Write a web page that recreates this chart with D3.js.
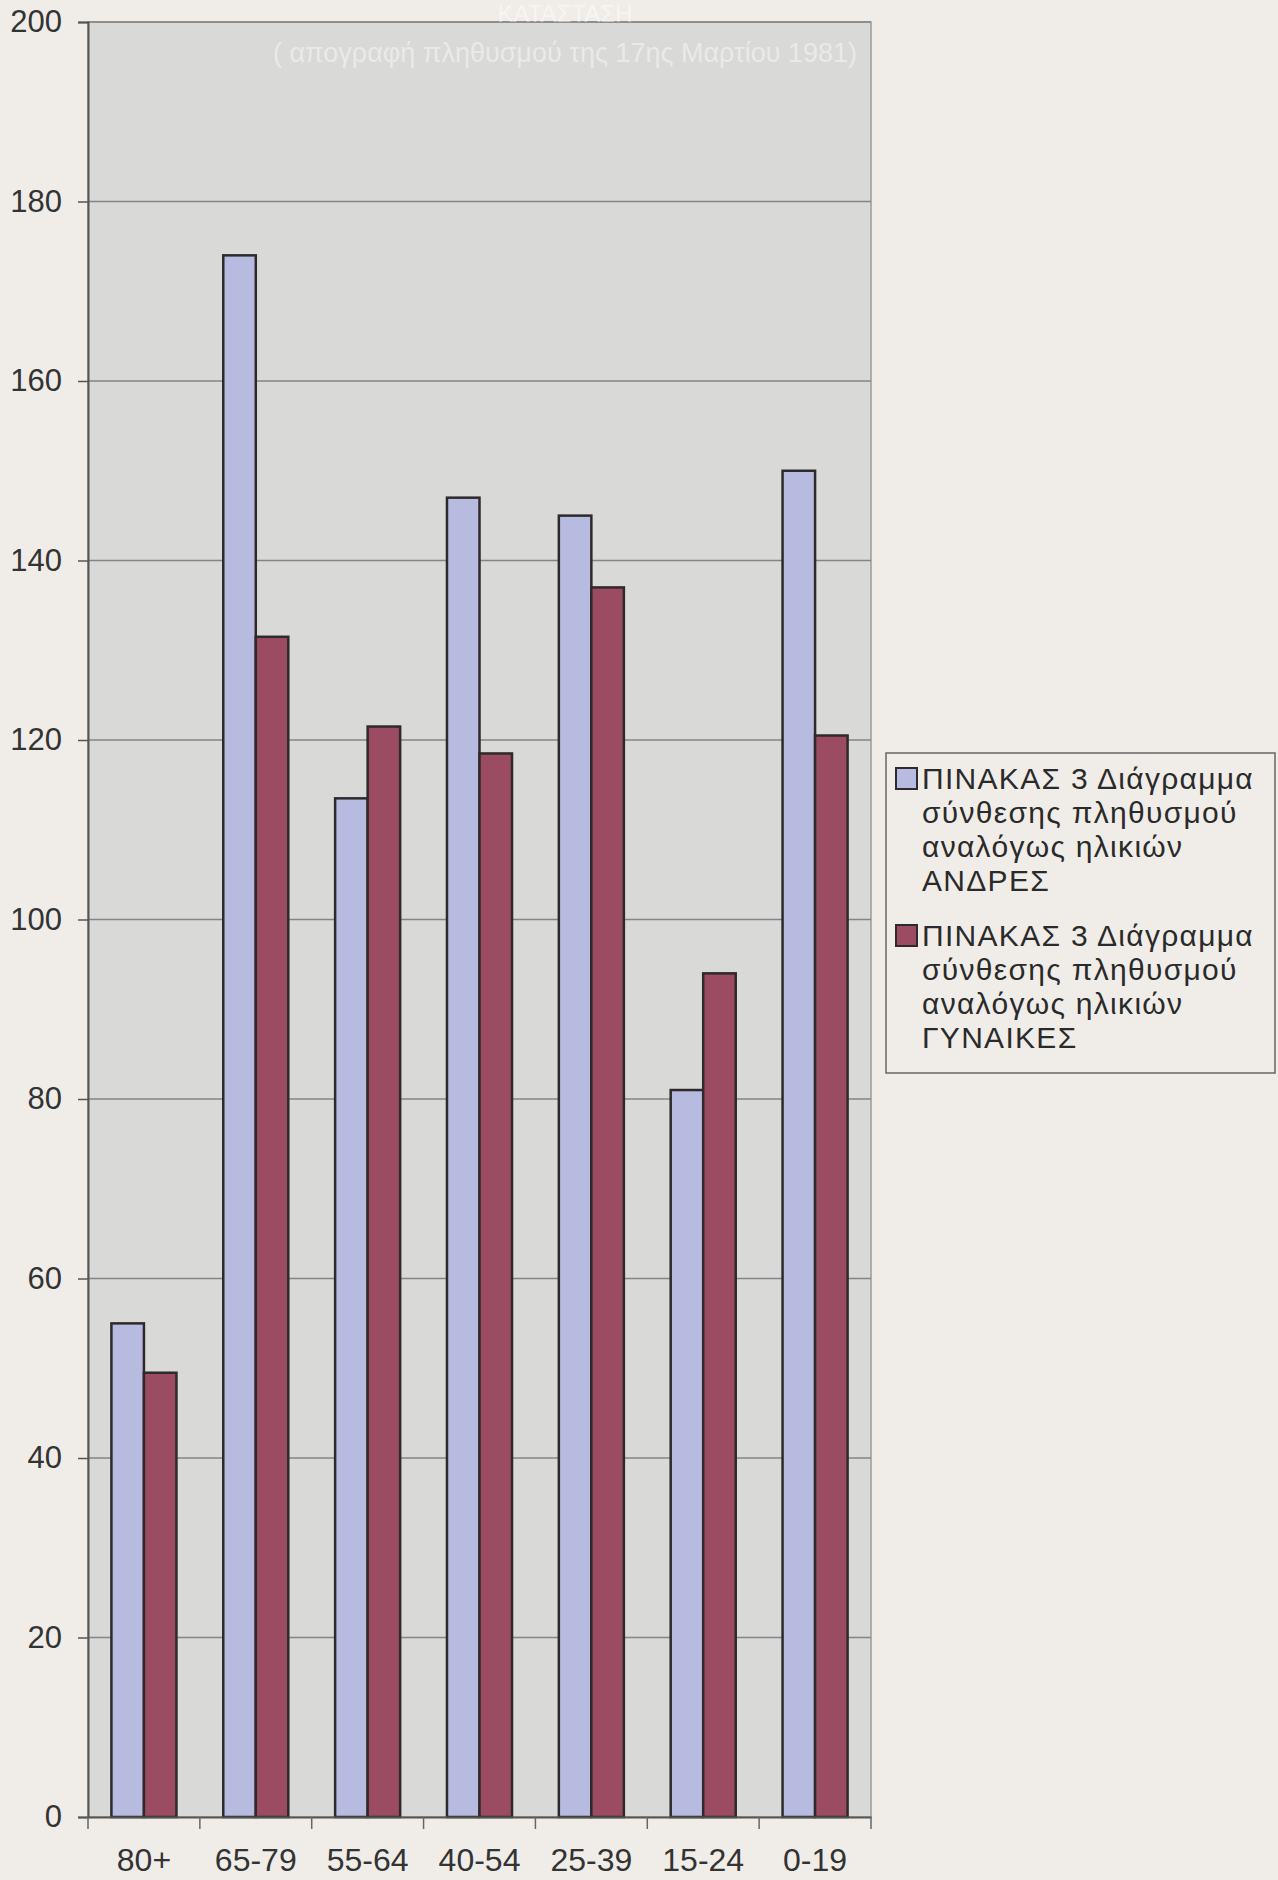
<!DOCTYPE html>
<html>
<head>
<meta charset="utf-8">
<script src="https://cdn.jsdelivr.net/npm/d3@7"></script>
<style>
  body { margin: 0; background: #f0ede9; }
  svg { display: block; font-family: "Liberation Sans", Arial, sans-serif; }
</style>
</head>
<body>
<div id="chart"></div>
<script>
// Data
const ageGroups = ["80+", "65-79", "55-64", "40-54", "25-39", "15-24", "0-19"];
const men = [55, 174, 113.5, 147, 145, 81, 150];
const women = [49.5, 131.5, 121.5, 118.5, 137, 94, 120.5];
const yTicks = [0, 20, 40, 60, 80, 100, 120, 140, 160, 180, 200];
const seriesKeys = ["men", "women"];
const seriesLabels = [
  ["ΠΙΝΑΚΑΣ 3 Διάγραμμα", "σύνθεσης πληθυσμού", "αναλόγως ηλικιών", "ΑΝΔΡΕΣ"],
  ["ΠΙΝΑΚΑΣ 3 Διάγραμμα", "σύνθεσης πληθυσμού", "αναλόγως ηλικιών", "ΓΥΝΑΙΚΕΣ"]
];
const ghostTitle = ["ΚΑΤΑΣΤΑΣΗ", "( απογραφή πληθυσμού της 17ης Μαρτίου 1981)"];

const rows = ageGroups.map((g, i) => ({ group: g, men: men[i], women: women[i] }));

// Dimensions
const svgWidth = 1278;
const svgHeight = 1880;
const plot = { left: 88, right: 871, top: 22, bottom: 1817 };
const colors = { men: "#b8bbe0", women: "#9c4c62" };

const svg = d3.select("#chart")
  .append("svg")
  .attr("width", svgWidth)
  .attr("height", svgHeight);

// Scales
const x0 = d3.scaleBand()
  .domain(ageGroups)
  .range([plot.left, plot.right]);

const x1 = d3.scaleBand()
  .domain(seriesKeys)
  .range([0, x0.bandwidth()])
  .paddingInner(0)
  .paddingOuter(0.72);

const y = d3.scaleLinear()
  .domain([0, 200])
  .range([plot.bottom, plot.top]);

// Plot area background
svg.append("rect")
  .attr("x", plot.left)
  .attr("y", plot.top)
  .attr("width", plot.right - plot.left)
  .attr("height", plot.bottom - plot.top)
  .attr("fill", "#d9d9d8")
  .attr("stroke", "#9a9a9a")
  .attr("stroke-width", 1.5);

// Gridlines
svg.append("g")
  .selectAll("line")
  .data(yTicks.filter(d => d > 0))
  .join("line")
  .attr("x1", plot.left)
  .attr("x2", plot.right)
  .attr("y1", d => y(d))
  .attr("y2", d => y(d))
  .attr("stroke", "#858585")
  .attr("stroke-width", 1.5);

// Faint title showing through the paper
svg.append("g")
  .attr("fill", "#ffffff")
  .attr("opacity", 0.45)
  .selectAll("text")
  .data(ghostTitle)
  .join("text")
  .attr("x", 565)
  .attr("y", (d, i) => i === 0 ? 22 : 62)
  .attr("text-anchor", "middle")
  .attr("font-size", (d, i) => i === 0 ? 24 : 27)
  .text(d => d);

// Bars
svg.append("g")
  .selectAll("g")
  .data(rows)
  .join("g")
  .attr("transform", d => `translate(${x0(d.group)},0)`)
  .selectAll("rect")
  .data(d => seriesKeys.map(k => ({ key: k, value: d[k] })))
  .join("rect")
  .attr("x", d => x1(d.key))
  .attr("y", d => y(d.value))
  .attr("width", x1.bandwidth())
  .attr("height", d => y(0) - y(d.value))
  .attr("fill", d => colors[d.key])
  .attr("stroke", "#2e2a2c")
  .attr("stroke-width", 2.5);

// Y axis
const yAxis = d3.axisLeft(y)
  .tickValues(yTicks)
  .tickSize(10)
  .tickPadding(16);

const gy = svg.append("g")
  .attr("transform", `translate(${plot.left},0)`)
  .call(yAxis);
gy.select(".domain").attr("stroke", "#555").attr("stroke-width", 2);
gy.selectAll(".tick line").attr("stroke", "#555").attr("stroke-width", 1.5);
gy.selectAll(".tick text")
  .attr("font-size", 31)
  .attr("fill", "#333")
  .attr("font-family", "Liberation Sans, Arial, sans-serif");

// X axis
const xAxis = d3.axisBottom(x0)
  .tickSize(0);

const gx = svg.append("g")
  .attr("transform", `translate(0,${plot.bottom})`)
  .call(xAxis);
gx.select(".domain").attr("stroke", "#555").attr("stroke-width", 2);
gx.selectAll(".tick text")
  .attr("y", 54)
  .attr("dy", null)
  .attr("font-size", 32)
  .attr("fill", "#333")
  .attr("font-family", "Liberation Sans, Arial, sans-serif");

// Category separator ticks
gx.append("g")
  .selectAll("line")
  .data(ageGroups.concat(["end"]))
  .join("line")
  .attr("x1", d => d === "end" ? plot.right : x0(d))
  .attr("x2", d => d === "end" ? plot.right : x0(d))
  .attr("y1", 0)
  .attr("y2", 12)
  .attr("stroke", "#666")
  .attr("stroke-width", 1.5);

// Legend
const legend = svg.append("g");
legend.append("rect")
  .attr("x", 886)
  .attr("y", 753)
  .attr("width", 389)
  .attr("height", 320)
  .attr("fill", "#f0ede9")
  .attr("stroke", "#666")
  .attr("stroke-width", 1.5);

const entries = legend.selectAll("g.entry")
  .data(seriesKeys)
  .join("g")
  .attr("class", "entry")
  .attr("transform", (d, i) => `translate(896,${768 + i * 157})`);

entries.append("rect")
  .attr("width", 21)
  .attr("height", 21)
  .attr("fill", d => colors[d])
  .attr("stroke", "#2e2a2c")
  .attr("stroke-width", 2);

entries.append("text")
  .attr("fill", "#2a2a2a")
  .attr("font-size", 30)
  .attr("letter-spacing", 1.3)
  .selectAll("tspan")
  .data((d, i) => seriesLabels[i])
  .join("tspan")
  .attr("x", 26)
  .attr("y", (d, i) => 21 + i * 34)
  .text(d => d);
</script>
</body>
</html>
